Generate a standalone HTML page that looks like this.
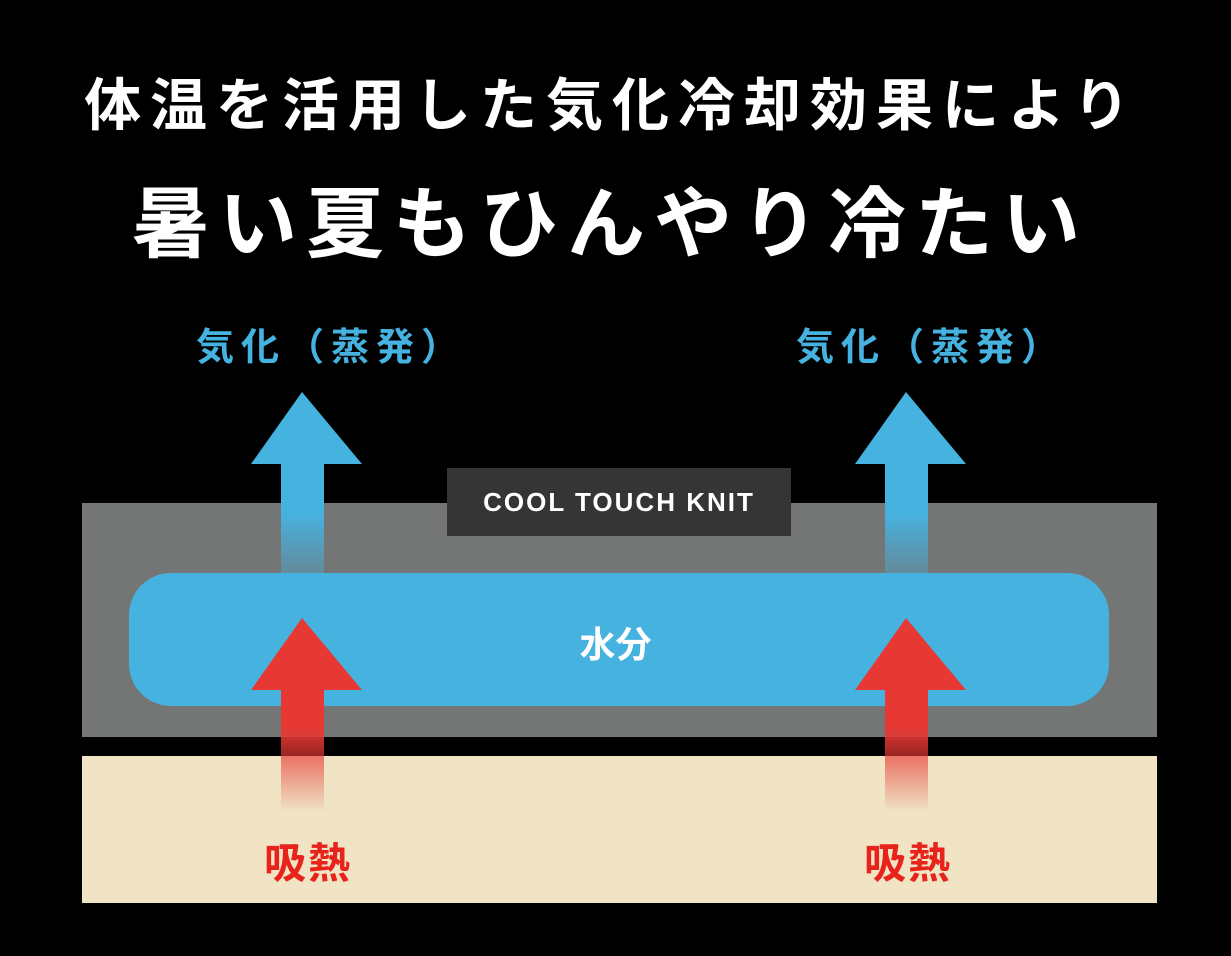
<!DOCTYPE html>
<html><head><meta charset="utf-8"><style>
body{margin:0;width:1231px;height:956px;background:#000;overflow:hidden;position:relative;font-family:"Liberation Sans","Noto Sans CJK JP",sans-serif}
.a{position:absolute}
.t{position:absolute;white-space:nowrap;font-weight:bold}
</style></head><body>
<div class="t" style="left:0;width:1231px;text-align:center;top:60px;font-size:57px;color:#fff;letter-spacing:9px;text-indent:-8px">体温を活用した気化冷却効果により</div>
<div class="t" style="left:0;width:1231px;text-align:center;top:162px;font-size:78px;color:#fff;letter-spacing:9px;text-indent:-10px">暑い夏もひんやり冷たい</div>
<div class="t" style="left:196px;top:316px;font-size:38px;color:#45b2e0;letter-spacing:7px">気化（蒸発）</div>
<div class="t" style="left:796px;top:316px;font-size:38px;color:#45b2e0;letter-spacing:7px">気化（蒸発）</div>
<div class="a" style="left:82px;top:503px;width:1075px;height:234px;background:#747575"></div>
<div class="a" style="left:82px;top:756px;width:1075px;height:147px;background:#f0e4c5"></div>
<div class="a" style="left:447px;top:468px;width:344px;height:68px;background:#353535;color:#fff;font-weight:bold;font-size:26px;line-height:68px;text-align:center;letter-spacing:2px">COOL TOUCH KNIT</div>
<div class="a" style="left:129px;top:573px;width:980px;height:133px;background:#46b2e0;border-radius:42px"></div>
<div class="t" style="left:0;width:1231px;text-align:center;top:616px;font-size:36px;color:#fff">水分</div>
<svg class="a" style="left:0;top:0" width="1231" height="956">
<defs>
<linearGradient id="bg" x1="0" y1="464" x2="0" y2="587" gradientUnits="userSpaceOnUse"><stop offset="0.4" stop-color="#46b2e0" stop-opacity="1"/><stop offset="1" stop-color="#46b2e0" stop-opacity="0.2"/></linearGradient>
<linearGradient id="rg" x1="0" y1="690" x2="0" y2="812" gradientUnits="userSpaceOnUse"><stop offset="0.3" stop-color="#e73833"/><stop offset="1" stop-color="#e73833" stop-opacity="0"/></linearGradient>
</defs>
<g id="ar">
<polygon points="302,392 362,464 251,464" fill="#46b2e0"/>
<rect x="281" y="463" width="43" height="124" fill="url(#bg)"/>
<polygon points="302,618 362,690 251,690" fill="#e73833"/>
<rect x="281" y="689" width="43" height="123" fill="url(#rg)"/>
</g>
<use href="#ar" x="604"/>
</svg>
<div class="t" style="left:264px;top:830px;font-size:42px;color:#e8231b;letter-spacing:2px">吸熱</div>
<div class="t" style="left:864px;top:830px;font-size:42px;color:#e8231b;letter-spacing:2px">吸熱</div>
</body></html>
